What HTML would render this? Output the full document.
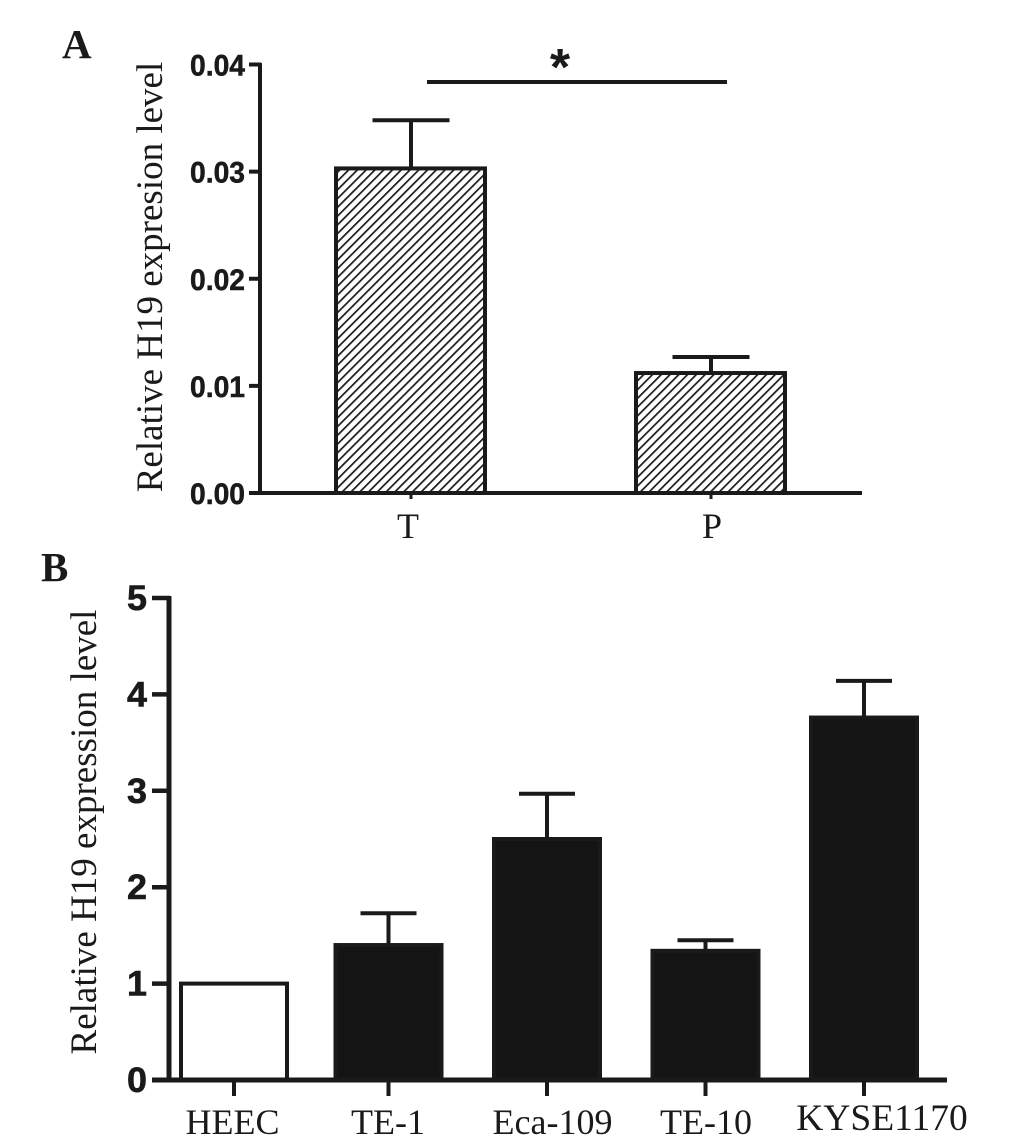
<!DOCTYPE html>
<html lang="en">
<head>
<meta charset="utf-8">
<title>Relative H19 expression level</title>
<style>
html,body{margin:0;padding:0;background:#fff;}
svg{display:block;}
.tickA{font:bold 29.5px "Liberation Sans",sans-serif;fill:#1a1a1a;stroke:#1a1a1a;stroke-width:.5px;}
.tickB{font:bold 35px "Liberation Sans",sans-serif;fill:#1a1a1a;stroke:#1a1a1a;stroke-width:.6px;}
.serif{font-family:"Liberation Serif",serif;fill:#1a1a1a;}
</style>
</head>
<body>
<svg id="chart" width="1033" height="1139" viewBox="0 0 1033 1139" xmlns="http://www.w3.org/2000/svg">
<defs>
<pattern id="hatch" patternUnits="userSpaceOnUse" width="6.2" height="6.2" patternTransform="rotate(45)">
<rect width="6.2" height="6.2" fill="#fff"/>
<rect x="0" y="0" width="1.7" height="6.2" fill="#1a1a1a"/>
</pattern>
</defs>
</svg>
<script>
const categoriesA = ['T', 'P'];
const valuesA = [0.0303, 0.0112];
const errorTopsA = [0.0348, 0.0127];
const ticksA = [0, 0.01, 0.02, 0.03, 0.04];
const tickLabelsA = ['0.00', '0.01', '0.02', '0.03', '0.04'];
const categoriesB = ['HEEC', 'TE-1', 'Eca-109', 'TE-10', 'KYSE1170'];
const valuesB = [1.0, 1.4, 2.5, 1.34, 3.76];
const errorTopsB = [1.0, 1.73, 2.97, 1.45, 4.14];
const ticksB = [0, 1, 2, 3, 4, 5];
const tickLabelsB = ['0', '1', '2', '3', '4', '5'];

const svg = document.getElementById('chart');
const INK = '#1a1a1a';
function add(tag, attrs, text) {
  const el = document.createElementNS('http://www.w3.org/2000/svg', tag);
  for (const k in attrs) el.setAttribute(k, attrs[k]);
  if (text !== undefined) el.textContent = text;
  svg.appendChild(el);
  return el;
}
function line(x1, y1, x2, y2, w) {
  return add('line', {x1: x1, y1: y1, x2: x2, y2: y2, stroke: INK, 'stroke-width': w});
}

/* axis functions */
const yA = v => 493 - (v / 0.04) * 428.5;
const xA = i => 411 + i * 300;
const yB = v => 1080 - (v / 5) * 482;
const xB = i => 388.5 + (i - 1) * 158.5 + (i === 0 ? 4 : 0);

/* panel A */
let el = add('text', {x: 62, y: 58, 'class': 'serif', 'font-size': 41, 'font-weight': 'bold'}, 'A');



el = add('text', {transform: 'translate(162,277) rotate(-90)', 'text-anchor': 'middle', 'class': 'serif', 'font-size': 37}, 'Relative H19 expresion level');



valuesA.forEach((v, i) => {
  const cx = xA(i), top = yA(v), errY = yA(errorTopsA[i]);
  const stem = line(cx, top, cx, errY, 4);
  
  
  const cap = line(cx - 38.5, errY, cx + 38.5, errY, 4);
  
  
  const bar = add('rect', {x: cx - 75, y: top, width: 149, height: 493 - top, fill: 'url(#hatch)', stroke: INK, 'stroke-width': 4});
  
  
  const tick = line(cx, 493, cx, 499, 3);
  
  
  const lab = add('text', {x: cx + (i === 0 ? -3 : 1), y: 538, 'text-anchor': 'middle', 'class': 'serif', 'font-size': 36}, categoriesA[i]);
  
  
});

el = line(260, 63, 260, 495, 4);


el = line(249, 493, 862, 493, 4);



ticksA.forEach((t, i) => {
  const tk = line(249, yA(t), 261, yA(t), 4);
  
  
  const lab = add('text', {x: 190, y: yA(t) + 11, textLength: 55, lengthAdjust: 'spacingAndGlyphs', 'class': 'tickA'}, tickLabelsA[i]);
  
  
});

el = line(427, 82, 727, 82, 4);


el = add('text', {x: 560, y: 85, 'text-anchor': 'middle', 'font-family': '"Liberation Sans",sans-serif', 'font-weight': 'bold', 'font-size': 52, fill: INK}, '*');



/* panel B */
el = add('text', {x: 41, y: 581, 'class': 'serif', 'font-size': 41, 'font-weight': 'bold'}, 'B');



el = add('text', {transform: 'translate(96,832) rotate(-90)', 'text-anchor': 'middle', 'class': 'serif', 'font-size': 37}, 'Relative H19 expression level');



/* small hand-placement nudges of the x labels relative to their ticks */
const labelNudgeB = i => [-1.5, -0.5, 5.5, 0.5, 18][i];

valuesB.forEach((v, i) => {
  const cx = xB(i), top = yB(v), errY = yB(errorTopsB[i]);
  const filled = i > 0;
  if (filled) {
    const stem = line(cx, top, cx, errY, 4);
    
    
    const cap = line(cx - 28, errY, cx + 28, errY, 4);
    
    
  }
  const bar = add('rect', {x: cx - 53, y: top, width: 106, height: 1080 - top, fill: filled ? '#141414' : '#fff', stroke: INK, 'stroke-width': 4});
  
  
  const tick = line(cx, 1080, cx, 1096, 4);
  
  
  const lab = add('text', {x: cx + labelNudgeB(i), y: i === 4 ? 1130 : 1134, 'text-anchor': 'middle', 'class': 'serif', 'font-size': i === 4 ? 37.5 : 36}, categoriesB[i]);
  
  
});

el = line(169, 596, 169, 1082, 5);


el = line(152, 1080, 947, 1080, 5);



ticksB.forEach((t, i) => {
  const tk = line(152, yB(t), 170, yB(t), 4.5);
  
  
  const lab = add('text', {x: 127, y: yB(t) + 12, textLength: 20, lengthAdjust: 'spacingAndGlyphs', 'class': 'tickB'}, tickLabelsB[i]);
  
  
});
</script>
</body>
</html>
